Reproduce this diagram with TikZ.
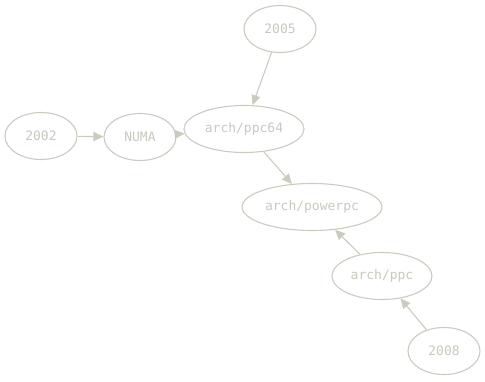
\documentclass[tikz,border=0pt]{standalone}
\usepackage{fontspec}
\setmonofont{DejaVu Sans Mono}
\usetikzlibrary{shapes.geometric,arrows.meta}

\definecolor{edgegray}{HTML}{CBCBC0}
\definecolor{textgray}{HTML}{C8C8BE}

\tikzset{
	box/.style={draw=edgegray, line width=1.1pt, ellipse, inner sep=0pt,
		minimum height=47pt, text=textgray, font=\ttfamily\fontsize{13}{15}\selectfont},
	link/.style={draw=edgegray, line width=1.1pt, -{Triangle[length=10pt,width=9pt]}}
}

\begin{document}
\begin{tikzpicture}[x=1pt,y=-1pt]

\useasboundingbox (0,0) rectangle (485,381);

\node[box, minimum width=72pt] (y2005) at (280,29) {2005};
\node[box, minimum width=72pt] (y2002) at (41,136) {2002};
\node[box, minimum width=72pt] (numa) at (140,137) {NUMA};
\node[box, minimum width=120pt] (ppc64) at (244,129) {arch/ppc64};
\node[box, minimum width=140pt] (powerpc) at (312,207) {arch/powerpc};
\node[box, minimum width=100pt] (ppc) at (382,276) {arch/ppc};
\node[box, minimum width=72pt] (y2008) at (444,351) {2008};

\draw[link] (y2005) -- (ppc64);
\draw[link] (y2002) -- (numa);
\draw[link] (numa) -- (ppc64);
\draw[link] (ppc64) -- (powerpc);
\draw[link] (ppc) -- (powerpc);
\draw[link] (y2008) -- (ppc);

\end{tikzpicture}
\end{document}
